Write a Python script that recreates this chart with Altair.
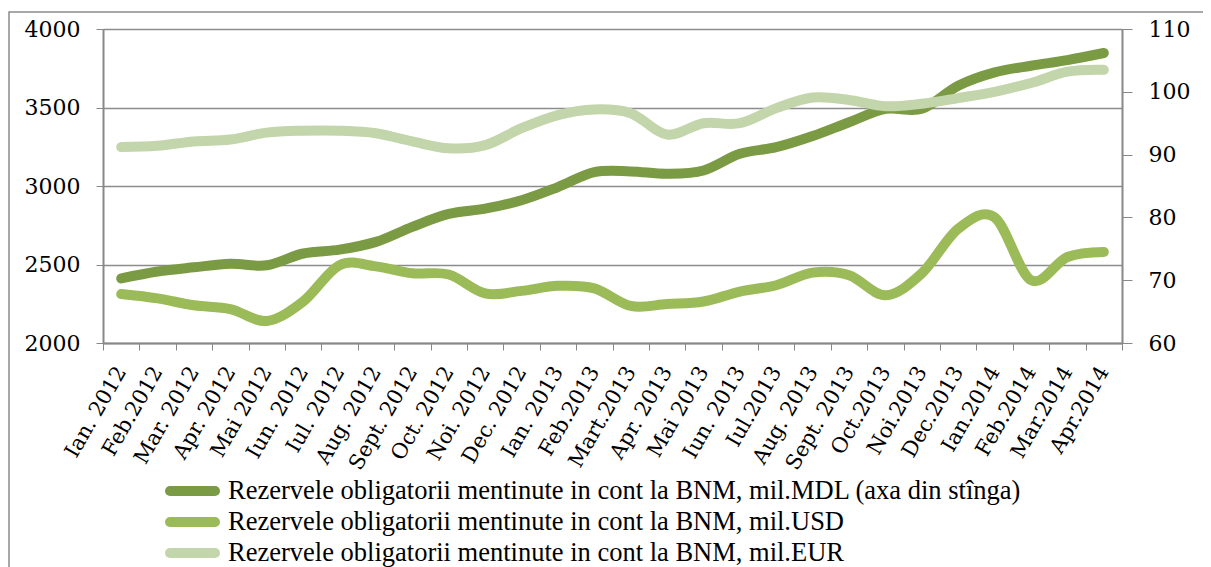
import altair as alt
import pandas as pd

months = ["Ian. 2012", "Feb.2012", "Mar. 2012", "Apr. 2012", "Mai 2012", "Iun. 2012",
          "Iul. 2012", "Aug. 2012", "Sept. 2012", "Oct. 2012", "Noi. 2012", "Dec. 2012",
          "Ian. 2013", "Feb.2013", "Mart.2013", "Apr. 2013", "Mai 2013", "Iun. 2013",
          "Iul.2013", "Aug. 2013", "Sept. 2013", "Oct.2013", "Noi.2013", "Dec.2013",
          "Ian.2014", "Feb.2014", "Mar.2014", "Apr.2014"]

mdl = [2411, 2455, 2482, 2505, 2495, 2570, 2595, 2644, 2740, 2822, 2856, 2909,
       2993, 3088, 3093, 3078, 3099, 3205, 3247, 3318, 3406, 3491, 3492, 3639,
       3724, 3766, 3802, 3847]
usd = [67.8, 67.1, 66.0, 65.4, 63.5, 66.6, 72.4, 72.2, 71.1, 70.9, 67.9, 68.3,
       69.1, 68.7, 65.9, 66.2, 66.6, 68.2, 69.2, 71.2, 70.8, 67.6, 71.1, 78.2,
       80.0, 70.0, 73.7, 74.5]
eur = [91.2, 91.4, 92.1, 92.4, 93.5, 93.8, 93.8, 93.4, 92.1, 91.0, 91.5, 94.2,
       96.3, 97.2, 96.6, 93.2, 95.0, 95.0, 97.4, 99.1, 98.7, 97.7, 98.1, 99.0,
       100.0, 101.4, 103.2, 103.5]

s_mdl = "Rezervele obligatorii mentinute in cont la BNM, mil.MDL (axa din stînga)"
s_usd = "Rezervele obligatorii mentinute in cont la BNM, mil.USD"
s_eur = "Rezervele obligatorii mentinute in cont la BNM, mil.EUR"
series = [s_mdl, s_usd, s_eur]
colors = ["#7b9a44", "#9bbb59", "#c3d5aa"]

left_ticks = [2000, 2500, 3000, 3500, 4000]
right_ticks = [60, 70, 80, 90, 100, 110]

df_left = pd.DataFrame({"month": months, "value": mdl, "series": s_mdl})
df_right = pd.concat([
    pd.DataFrame({"month": months, "value": usd, "series": s_usd}),
    pd.DataFrame({"month": months, "value": eur, "series": s_eur}),
])
df_legend = pd.DataFrame({"series": series})

W, H = 1019, 314
axis_font = "DejaVu Serif"

x_enc = alt.X("month:N", sort=months, bandPosition=0.5,
              scale=alt.Scale(type="band", paddingInner=0, paddingOuter=0),
              axis=alt.Axis(title=None, labelAngle=-60, labelFont=axis_font, labelFontSize=21,
                            labelColor="#000000", tickBand="extent", tickSize=7,
                            tickColor="#888888", domainColor="#888888", domainWidth=2,
                            labelPadding=18, grid=False))

color_enc = alt.Color("series:N", sort=series,
                      scale=alt.Scale(domain=series, range=colors), legend=None)

left = alt.Chart(df_left).mark_line(strokeWidth=10, strokeCap="round", interpolate="cardinal").encode(
    x=x_enc,
    y=alt.Y("value:Q", scale=alt.Scale(domain=[2000, 4000], nice=False, zero=False),
            axis=alt.Axis(title=None, values=left_ticks, format="d", orient="left",
                          labelFont=axis_font, labelFontSize=22, labelColor="#000000",
                          tickSize=7, tickColor="#888888", domainColor="#888888",
                          domainWidth=2, labelPadding=16,
                          grid=True, gridColor="#8c8c8c", gridWidth=1.5)),
    color=color_enc,
)

right = alt.Chart(df_right).mark_line(strokeWidth=10, strokeCap="round", interpolate="cardinal").encode(
    x=x_enc,
    y=alt.Y("value:Q", scale=alt.Scale(domain=[60, 110], nice=False, zero=False),
            axis=alt.Axis(title=None, values=right_ticks, format="d", orient="right",
                          labelFont=axis_font, labelFontSize=22, labelColor="#000000",
                          tickSize=10, tickColor="#888888", domainColor="#888888",
                          domainWidth=2, labelPadding=16, grid=False)),
    color=color_enc,
)

# legend rows placed below the plot through a point scale
leg_y = alt.Y("series:N", sort=series, axis=None,
              scale=alt.Scale(type="point", domain=series, range=[462, 524], padding=0))

leg_sym = alt.Chart(df_legend).mark_rule(strokeWidth=10, strokeCap="round", clip=False).encode(
    x=alt.value(67), x2=alt.value(112), y=leg_y, color=color_enc,
)
leg_txt = alt.Chart(df_legend).mark_text(
    align="left", baseline="middle", font="Liberation Serif", fontSize=26.5,
    color="#000000", clip=False
).encode(x=alt.value(125), y=leg_y, text="series:N")

border = alt.Chart(pd.DataFrame({"b": [0]})).mark_rect(
    fill=None, stroke="#8c8c8c", strokeWidth=1.5, clip=False
).encode(x=alt.value(-94), x2=alt.value(1200), y=alt.value(-17), y2=alt.value(600))

chart = alt.layer(border, left, right, leg_sym, leg_txt).resolve_scale(
    y="independent"
).properties(
    width=W, height=H,
    autosize=alt.AutoSizeParams(type="none"),
    padding={"left": 95, "top": 21, "right": 81, "bottom": 226},
).configure_view(
    fill="#eff2e9", stroke="#8c8c8c", strokeWidth=1.5
).configure(background="#ffffff")

chart.save("out.html", embed_options={"renderer": "svg", "actions": False})
